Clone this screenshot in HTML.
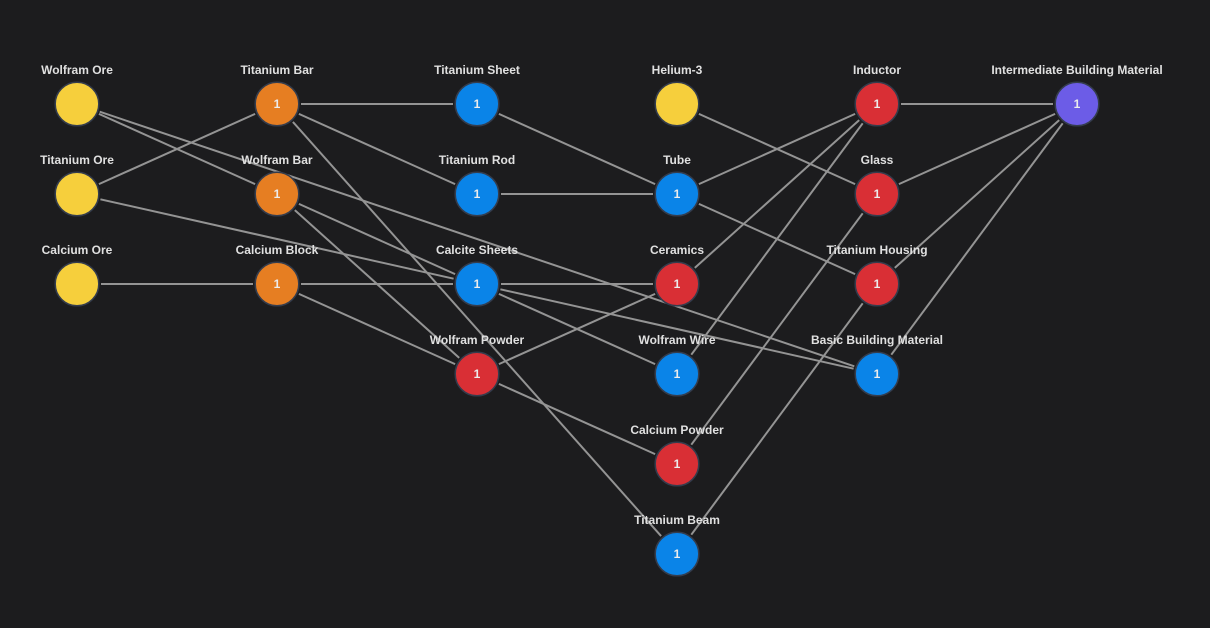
<!DOCTYPE html>
<html>
<head>
<meta charset="utf-8">
<style>
html,body{margin:0;padding:0;background:#1c1c1e;width:1210px;height:628px;overflow:hidden}
svg{display:block}
text{font-family:"Liberation Sans",Arial,sans-serif}
.l{font-size:12px;font-weight:bold;fill:#e0e0e0;text-anchor:middle}
.n{font-size:12px;font-weight:bold;fill:#ececec;text-anchor:middle}
line{stroke:#949494;stroke-width:2}
circle{stroke:#343c4c;stroke-width:1.5}
.y{fill:#f6cf3c}.o{fill:#e67e22}.b{fill:#0a84e8}.r{fill:#d92f35}.p{fill:#6c5ce7}
</style>
</head>
<body>
<svg width="1210" height="628" viewBox="0 0 1210 628" xmlns="http://www.w3.org/2000/svg">
<g>
<line x1="98.9" y1="113.9" x2="255.1" y2="184.1"/>
<line x1="99.7" y1="111.7" x2="854.3" y2="366.3"/>
<line x1="98.9" y1="184.1" x2="255.1" y2="113.9"/>
<line x1="100.4" y1="199.3" x2="453.6" y2="278.7"/>
<line x1="101" y1="284" x2="253" y2="284"/>
<line x1="301" y1="104" x2="453" y2="104"/>
<line x1="298.9" y1="113.9" x2="455.1" y2="184.1"/>
<line x1="292.9" y1="121.9" x2="661.1" y2="536.1"/>
<line x1="298.9" y1="203.9" x2="455.1" y2="274.1"/>
<line x1="294.8" y1="210.1" x2="459.2" y2="357.9"/>
<line x1="301" y1="284" x2="453" y2="284"/>
<line x1="298.9" y1="293.9" x2="455.1" y2="364.1"/>
<line x1="498.9" y1="113.9" x2="655.1" y2="184.1"/>
<line x1="501" y1="194" x2="653" y2="194"/>
<line x1="501" y1="284" x2="653" y2="284"/>
<line x1="498.9" y1="293.9" x2="655.1" y2="364.1"/>
<line x1="500.4" y1="289.3" x2="853.6" y2="368.7"/>
<line x1="498.9" y1="364.1" x2="655.1" y2="293.9"/>
<line x1="498.9" y1="383.9" x2="655.1" y2="454.1"/>
<line x1="698.9" y1="113.9" x2="855.1" y2="184.1"/>
<line x1="698.9" y1="184.1" x2="855.1" y2="113.9"/>
<line x1="698.9" y1="203.9" x2="855.1" y2="274.1"/>
<line x1="694.8" y1="267.9" x2="859.2" y2="120.1"/>
<line x1="691.3" y1="354.7" x2="862.7" y2="123.3"/>
<line x1="691.3" y1="444.7" x2="862.7" y2="213.3"/>
<line x1="691.3" y1="534.7" x2="862.7" y2="303.3"/>
<line x1="901" y1="104" x2="1053" y2="104"/>
<line x1="898.9" y1="184.1" x2="1055.1" y2="113.9"/>
<line x1="894.8" y1="267.9" x2="1059.2" y2="120.1"/>
<line x1="891.3" y1="354.7" x2="1062.7" y2="123.3"/>
</g>
<g>
<circle cx="77" cy="104" r="21.8" class="y"/>
<circle cx="77" cy="194" r="21.8" class="y"/>
<circle cx="77" cy="284" r="21.8" class="y"/>
<circle cx="277" cy="104" r="21.8" class="o"/>
<circle cx="277" cy="194" r="21.8" class="o"/>
<circle cx="277" cy="284" r="21.8" class="o"/>
<circle cx="477" cy="104" r="21.8" class="b"/>
<circle cx="477" cy="194" r="21.8" class="b"/>
<circle cx="477" cy="284" r="21.8" class="b"/>
<circle cx="477" cy="374" r="21.8" class="r"/>
<circle cx="677" cy="104" r="21.8" class="y"/>
<circle cx="677" cy="194" r="21.8" class="b"/>
<circle cx="677" cy="284" r="21.8" class="r"/>
<circle cx="677" cy="374" r="21.8" class="b"/>
<circle cx="677" cy="464" r="21.8" class="r"/>
<circle cx="677" cy="554" r="21.8" class="b"/>
<circle cx="877" cy="104" r="21.8" class="r"/>
<circle cx="877" cy="194" r="21.8" class="r"/>
<circle cx="877" cy="284" r="21.8" class="r"/>
<circle cx="877" cy="374" r="21.8" class="b"/>
<circle cx="1077" cy="104" r="21.8" class="p"/>
</g>
<g>
<text class="n" x="277" y="108">1</text>
<text class="n" x="277" y="198">1</text>
<text class="n" x="277" y="288">1</text>
<text class="n" x="477" y="108">1</text>
<text class="n" x="477" y="198">1</text>
<text class="n" x="477" y="288">1</text>
<text class="n" x="477" y="378">1</text>
<text class="n" x="677" y="198">1</text>
<text class="n" x="677" y="288">1</text>
<text class="n" x="677" y="378">1</text>
<text class="n" x="677" y="468">1</text>
<text class="n" x="677" y="558">1</text>
<text class="n" x="877" y="108">1</text>
<text class="n" x="877" y="198">1</text>
<text class="n" x="877" y="288">1</text>
<text class="n" x="877" y="378">1</text>
<text class="n" x="1077" y="108">1</text>
</g>
<g>
<text class="l" x="77" y="74">Wolfram Ore</text>
<text class="l" x="77" y="164">Titanium Ore</text>
<text class="l" x="77" y="254">Calcium Ore</text>
<text class="l" x="277" y="74">Titanium Bar</text>
<text class="l" x="277" y="164">Wolfram Bar</text>
<text class="l" x="277" y="254">Calcium Block</text>
<text class="l" x="477" y="74">Titanium Sheet</text>
<text class="l" x="477" y="164">Titanium Rod</text>
<text class="l" x="477" y="254">Calcite Sheets</text>
<text class="l" x="477" y="344">Wolfram Powder</text>
<text class="l" x="677" y="74">Helium-3</text>
<text class="l" x="677" y="164">Tube</text>
<text class="l" x="677" y="254">Ceramics</text>
<text class="l" x="677" y="344">Wolfram Wire</text>
<text class="l" x="677" y="434">Calcium Powder</text>
<text class="l" x="677" y="524">Titanium Beam</text>
<text class="l" x="877" y="74">Inductor</text>
<text class="l" x="877" y="164">Glass</text>
<text class="l" x="877" y="254">Titanium Housing</text>
<text class="l" x="877" y="344">Basic Building Material</text>
<text class="l" x="1077" y="74">Intermediate Building Material</text>
</g>
</svg>
</body>
</html>
